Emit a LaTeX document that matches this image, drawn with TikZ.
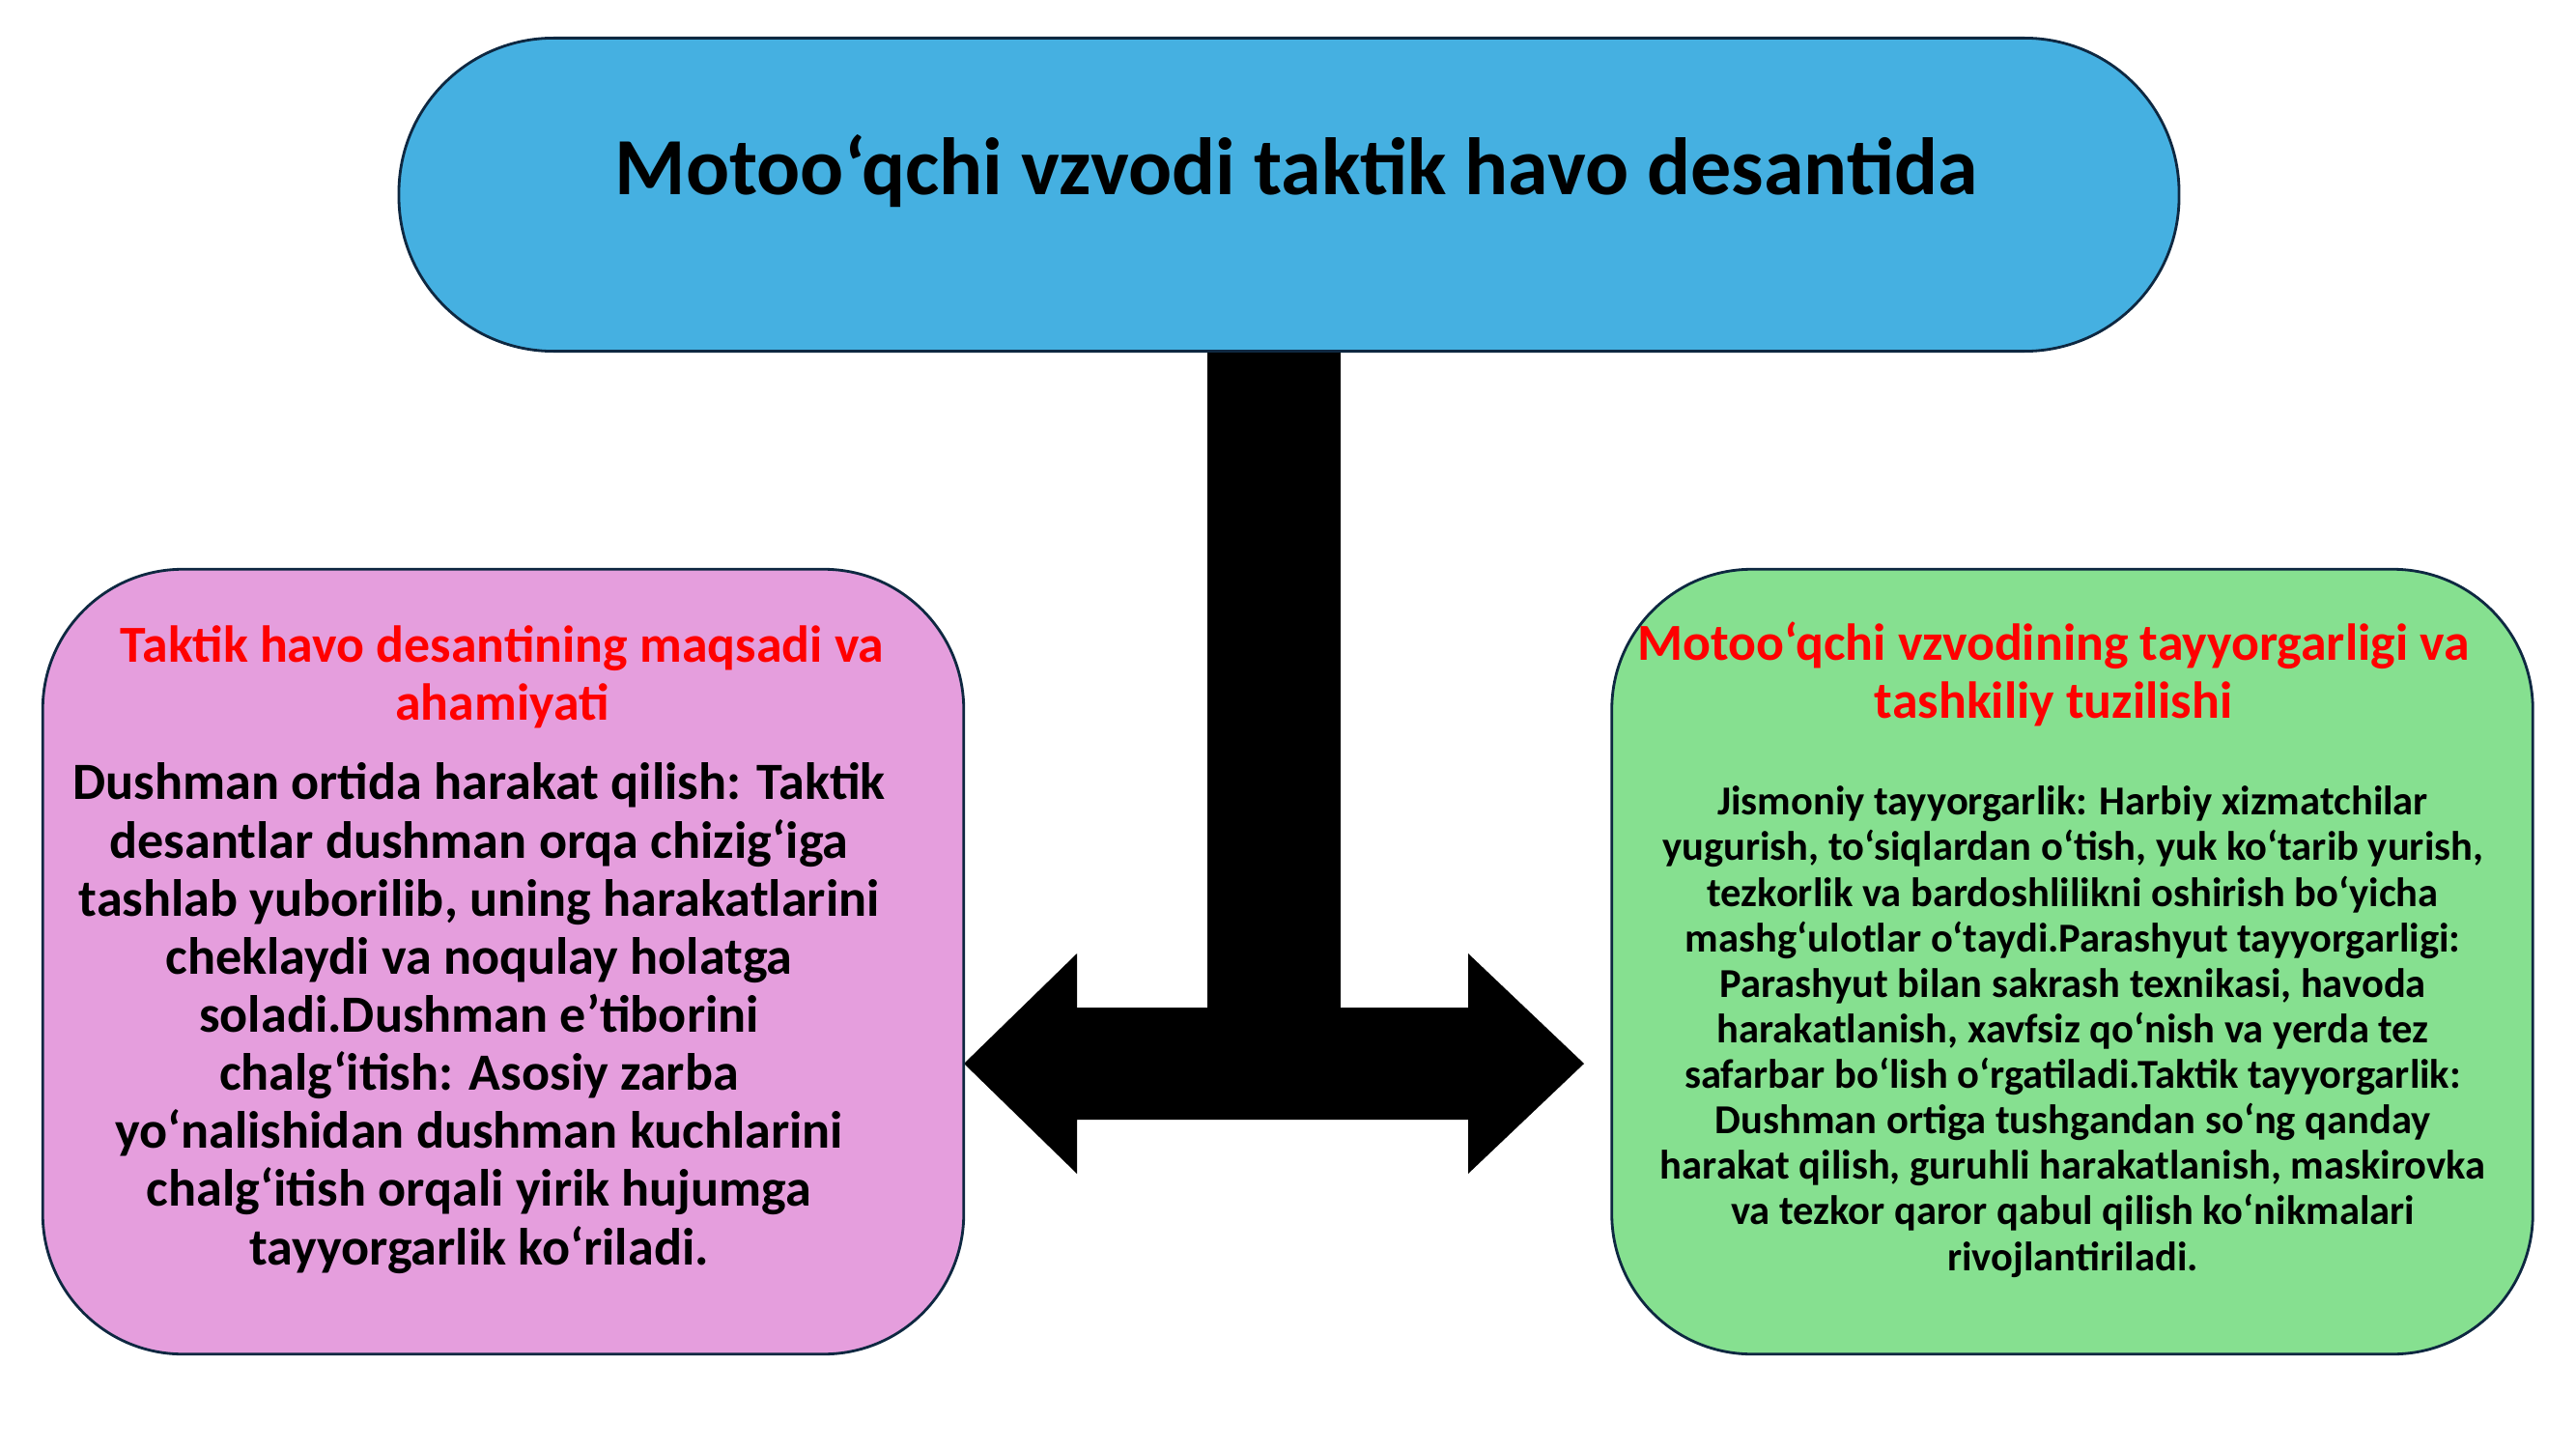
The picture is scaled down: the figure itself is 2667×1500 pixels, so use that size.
\documentclass[tikz,border=0pt]{standalone}
\usepackage{fontspec}
\setmainfont{Carlito}
\usetikzlibrary{positioning}
\definecolor{skyfill}{HTML}{45B0E1}
\definecolor{pinkfill}{HTML}{E59EDD}
\definecolor{greenfill}{HTML}{86E090}
\definecolor{edgeline}{HTML}{0E2841}
\definecolor{headred}{HTML}{FF0000}
\tikzset{
    panel/.style = {rectangle,draw=edgeline,line width=0.8pt,inner sep=0pt},
    titlebox/.style = {panel,fill=skyfill,minimum width=18.42cm,minimum height=3.24cm,rounded corners=1.6cm},
    leftbox/.style = {panel,fill=pinkfill,minimum width=9.53cm,minimum height=8.12cm,rounded corners=1.45cm},
    rightbox/.style = {panel,fill=greenfill,minimum width=9.53cm,minimum height=8.12cm,rounded corners=1.45cm},
    bigtitle/.style = {anchor=base,inner sep=0pt,font=\bfseries\fontsize{23.9pt}{28pt}\selectfont},
    heading/.style = {anchor=base,align=center,inner sep=0pt,text=headred,font=\bfseries\fontsize{15.3pt}{16.9pt}\selectfont},
    bodytext/.style = {anchor=base,align=center,inner sep=0pt,font=\bfseries\fontsize{15.4pt}{17.1pt}\selectfont},
    smalltext/.style = {anchor=base,align=center,inner sep=0pt,font=\bfseries\fontsize{12.1pt}{13.4pt}\selectfont},
    stem/.style = {line width=1.38cm,black}}

\begin{document}
\begin{tikzpicture}[x=0.01cm,y=-0.01cm]
    \useasboundingbox (0,0) rectangle (2667,1500);
    \path (1334.5,201.5) node[titlebox] (top) {}
        (1319,1101) coordinate (hub);
    \draw[stem] (top.south -| hub) -- (hub);
    % double block arrow
    \fill (hub) ++(-321,0) -- ++(117,-114) -- ++(0,56) -- ++(405,0) -- ++(0,-56)
        -- ++(120,114) -- ++(-120,114) -- ++(0,-56) -- ++(-405,0) -- ++(0,56) -- cycle;
    \path (521,995.5) node[leftbox] (left) {}
        (2145.5,995.5) node[rightbox] (right) {};
    % texts
    \node[bigtitle] (title) at (1342,201.7) {Motoo‘qchi vzvodi taktik havo desantida};
    \node[heading] (lefthead) at (520,745) {Taktik havo desantining maqsadi va\\ahamiyati};
    \node[bodytext] (leftbody) at (496,1309) {Dushman ortida harakat qilish: Taktik\\
        desantlar dushman orqa chizig‘iga\\
        tashlab yuborilib, uning harakatlarini\\
        cheklaydi va noqulay holatga\\
        soladi.Dushman e’tiborini\\
        chalg‘itish: Asosiy zarba\\
        yo‘nalishidan dushman kuchlarini\\
        chalg‘itish orqali yirik hujumga\\
        tayyorgarlik ko‘riladi.};
    \node[heading] (righthead) at (2126,743) {Motoo‘qchi vzvodining tayyorgarligi va\\tashkiliy tuzilishi};
    \node[smalltext] (rightbody) at (2146,1315) {Jismoniy tayyorgarlik: Harbiy xizmatchilar\\
        yugurish, to‘siqlardan o‘tish, yuk ko‘tarib yurish,\\
        tezkorlik va bardoshlilikni oshirish bo‘yicha\\
        mashg‘ulotlar o‘taydi.Parashyut tayyorgarligi:\\
        Parashyut bilan sakrash texnikasi, havoda\\
        harakatlanish, xavfsiz qo‘nish va yerda tez\\
        safarbar bo‘lish o‘rgatiladi.Taktik tayyorgarlik:\\
        Dushman ortiga tushgandan so‘ng qanday\\
        harakat qilish, guruhli harakatlanish, maskirovka\\
        va tezkor qaror qabul qilish ko‘nikmalari\\
        rivojlantiriladi.};
\end{tikzpicture}
\end{document}
